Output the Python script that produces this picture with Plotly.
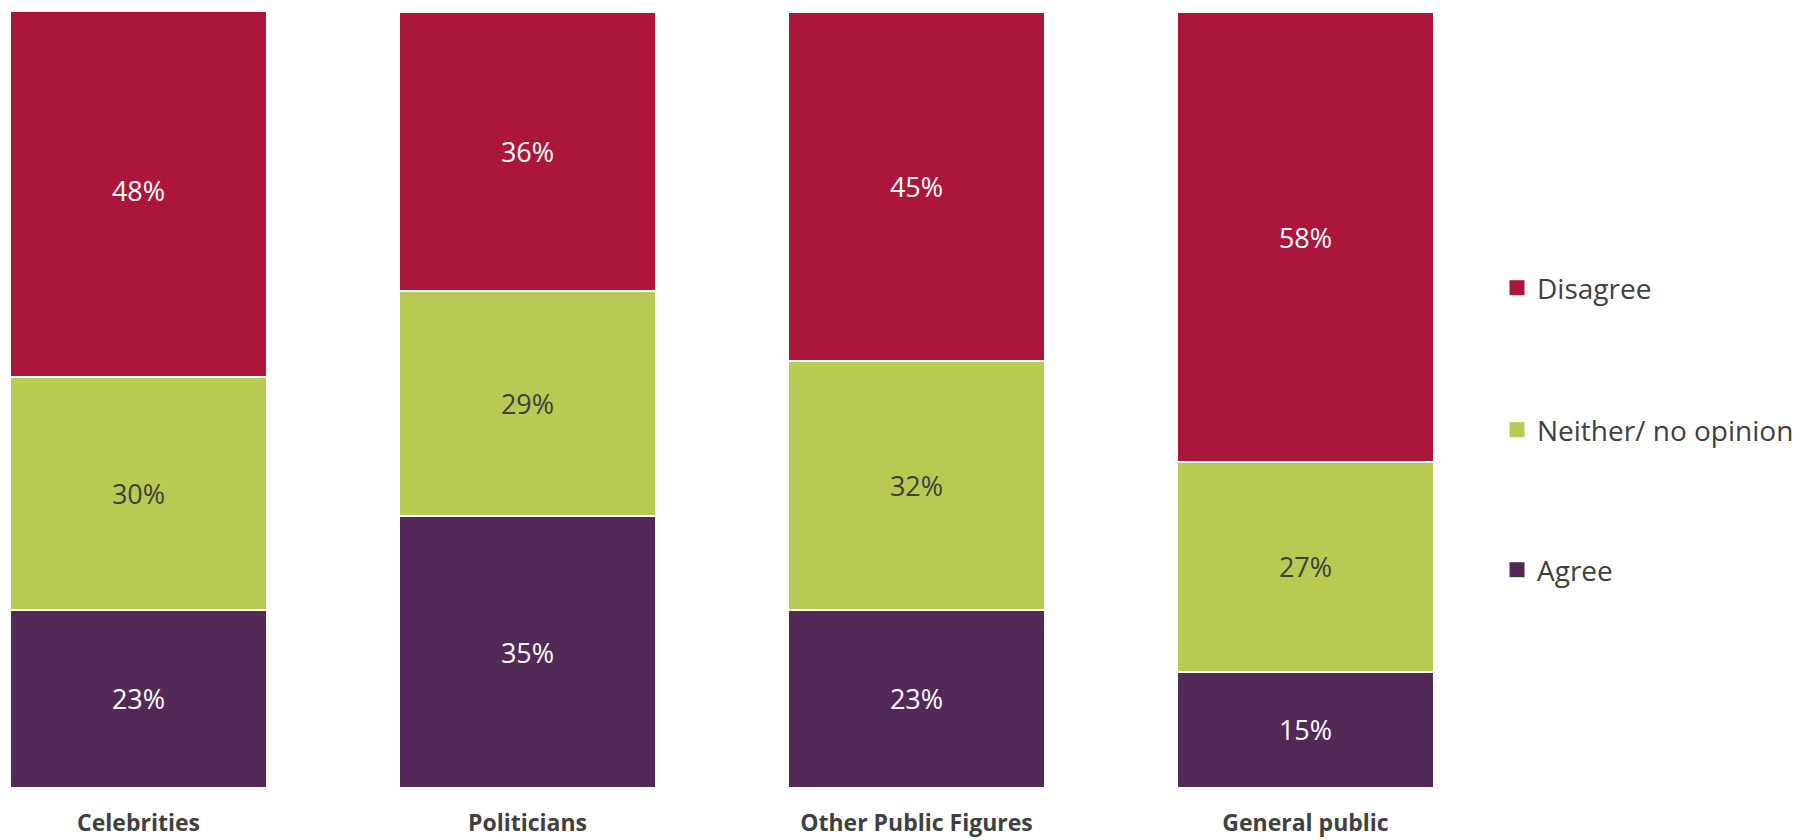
import plotly.graph_objects as go

categories = ["Celebrities", "Politicians", "Other Public Figures", "General public"]
agree = [23, 35, 23, 15]
neither = [30, 29, 32, 27]
disagree = [48, 36, 45, 58]

positions = list(range(len(categories)))

FONT = "Open Sans"
DARK = "#404040"

series = [
    ("Agree", agree, "#532958", "white", "legend3"),
    ("Neither/ no opinion", neither, "#B8CA51", DARK, "legend2"),
    ("Disagree", disagree, "#AD163B", "white", "legend"),
]

fig = go.Figure()
for name, vals, color, txtcolor, leg in series:
    fig.add_trace(go.Bar(
        x=positions,
        y=vals,
        name=name,
        width=0.661,
        marker=dict(color=color, line=dict(color="white", width=2)),
        text=[f"{v}%" for v in vals],
        textposition="inside",
        insidetextanchor="middle",
        textangle=0,
        textfont=dict(family=FONT, size=27, color=txtcolor),
        showlegend=False,
        hoverinfo="skip",
    ))
    # legend entry with a larger square swatch
    fig.add_trace(go.Scatter(
        x=[None],
        y=[None],
        mode="markers",
        name=name,
        marker=dict(symbol="square", size=15, color=color),
        legend=leg,
        hoverinfo="skip",
    ))

legend_common = dict(
    font=dict(family=FONT, size=28, color=DARK),
    bgcolor="rgba(0,0,0,0)",
    xref="container",
    yref="container",
    xanchor="left",
    yanchor="middle",
    x=1497 / 1800,
    itemwidth=30,
)
fig.update_layout(
    barmode="stack",
    width=1800,
    height=840,
    margin=dict(l=0, r=300, t=12, b=52, autoexpand=False),
    plot_bgcolor="white",
    paper_bgcolor="white",
    showlegend=True,
    legend=dict(**legend_common, y=1 - 288 / 840),
    legend2=dict(**legend_common, y=1 - 430 / 840),
    legend3=dict(**legend_common, y=1 - 570 / 840),
    xaxis=dict(
        range=[-0.356, 3.5],
        tickmode="array",
        tickvals=positions,
        ticktext=[f"<b>{c}</b>" for c in categories],
        tickfont=dict(family=FONT, size=23, color=DARK),
        showgrid=False,
        zeroline=False,
        showline=False,
        ticks="",
        ticklabelstandoff=19,
        automargin=False,
        fixedrange=True,
    ),
    yaxis=dict(
        range=[0, 100],
        visible=False,
        showgrid=False,
        zeroline=False,
        automargin=False,
        fixedrange=True,
    ),
    uniformtext=dict(mode=False),
)

fig.write_html("out.html")
